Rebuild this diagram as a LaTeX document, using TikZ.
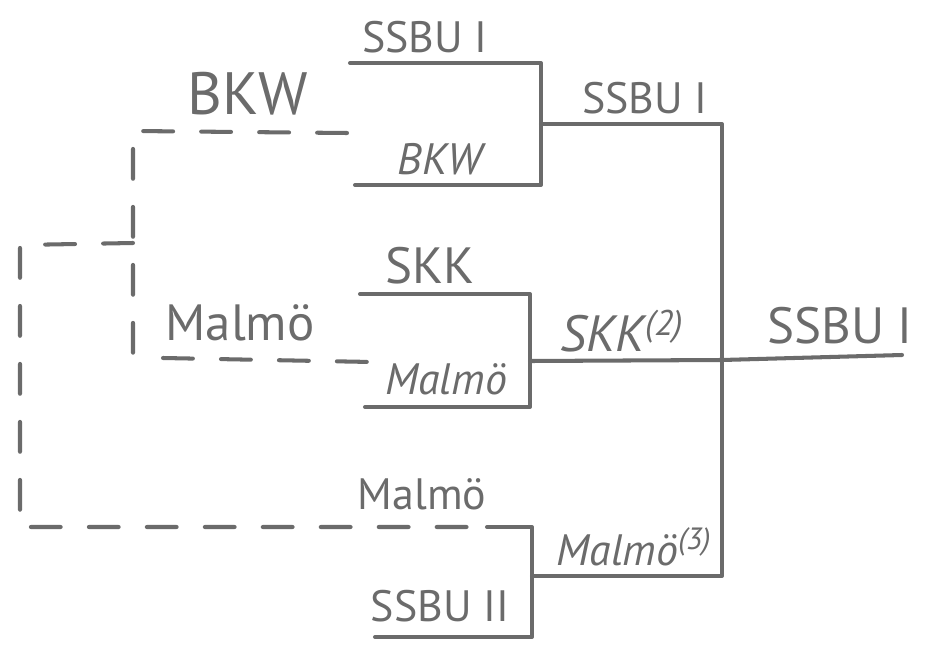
\documentclass[tikz,border=0pt]{standalone}
\usepackage{fontspec}
\setmainfont{PT Sans}
\usetikzlibrary{positioning}
\definecolor{pencil}{gray}{0.42}
\tikzset{bar/.style = {line width=2.3pt, color=pencil, line cap=round, line join=round},
         dbar/.style = {bar, dash pattern=on 17pt off 16pt},
         team/.style = {text=pencil, font=\fontsize{25}{27}\selectfont, inner sep=1pt},
         big/.style = {team, font=\fontsize{29}{31}\selectfont},
         slant/.style = {team, font=\fontsize{25}{27}\selectfont\itshape}}

\begin{document}
\begin{tikzpicture}[x=0.02cm, y=-0.02cm]
    \useasboundingbox (0, 0) rectangle (928, 645);

    \coordinate (ssbuA) at (350, 63);   \coordinate (ssbuAr) at (541, 63);
    \coordinate (bkwB) at (355, 185);   \coordinate (bkwBr) at (541, 185);
    \coordinate (semiA) at (541, 124);  \coordinate (semiAr) at (722, 124);
    \coordinate (skkB) at (360, 294);   \coordinate (skkBr) at (530, 294);
    \coordinate (malB) at (365, 407);   \coordinate (malBr) at (530, 407);
    \coordinate (semiB) at (530, 361);  \coordinate (semiBr) at (722, 360);
    \coordinate (finalr) at (902, 355);
    \coordinate (malC) at (487, 527);   \coordinate (malCr) at (532, 527);
    \coordinate (ssbuC) at (375, 637);  \coordinate (ssbuCr) at (532, 637);
    \coordinate (semiC) at (532, 576);  \coordinate (semiCr) at (722, 576);

    \coordinate (bkwQ) at (347, 133);   \coordinate (bkwQl) at (133, 131);
    \coordinate (malQl) at (133, 356);
    \coordinate (malU) at (163, 358);   \coordinate (malUr) at (372, 362);
    \coordinate (prelim) at (133, 243); \coordinate (prelimA) at (20, 245);
    \coordinate (prelimB) at (20, 527);

    \draw [bar] (ssbuA) -- (ssbuAr) -- (bkwBr) -- (bkwB);
    \draw [bar] (semiA) -- (semiAr) -- (semiCr) -- (semiC);
    \draw [bar] (skkB) -- (skkBr) -- (malBr) -- (malB);
    \draw [bar] (semiB) -- (semiBr) -- (finalr);
    \draw [bar] (malC) -- (malCr) -- (ssbuCr) -- (ssbuC);

    \draw [dbar] (bkwQ) -- (bkwQl) -- (malQl);
    \draw [dbar] (malU) -- (malUr);
    \draw [dbar] (prelim) -- (prelimA) -- (prelimB) -- (malC);

    \node [team, anchor=south] (tSsbuA) at (425, 55) {SSBU I};
    \node [team, anchor=south, font=\fontsize{34}{36}\selectfont] (tBkwQ) at (248, 117) {BKW};
    \node [slant, anchor=south] (tBkwB) at (440, 177) {BKW};
    \node [team, anchor=south] (tSemiA) at (645, 116) {SSBU I};
    \node [big, anchor=south] (tSkkB) at (430, 286) {SKK};
    \node [big, anchor=south] (tMalQ) at (240, 343) {Malmö};
    \node [slant, anchor=south] (tMalB) at (446, 397) {Malmö};
    \node [big, anchor=south, font=\fontsize{29}{31}\selectfont\itshape] (tSemiB) at (622, 354) {SKK\textsuperscript{(2)}};
    \node [big, anchor=south] (tFinal) at (840, 346) {SSBU I};
    \node [team, anchor=south] (tMalC) at (422, 512) {Malmö};
    \node [team, anchor=south] (tSsbuC) at (440, 624) {SSBU II};
    \node [slant, anchor=south] (tSemiC) at (634, 568) {Malmö\textsuperscript{(3)}};
\end{tikzpicture}
\end{document}
